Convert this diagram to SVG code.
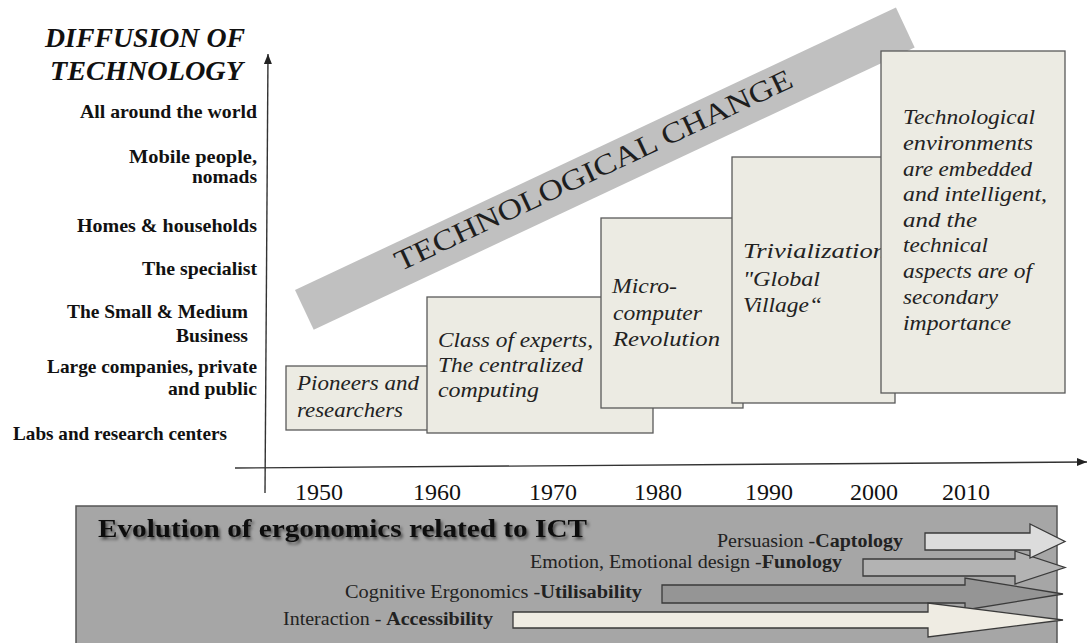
<svg xmlns="http://www.w3.org/2000/svg" width="1090" height="643" viewBox="0 0 1090 643">
<defs>
<style>
.lbl{font-family:"Liberation Serif","Times New Roman",serif;font-weight:bold;font-size:19px;fill:#111}
.ttl{font-family:"Liberation Serif","Times New Roman",serif;font-weight:bold;font-style:italic;font-size:27px;fill:#111}
.yr{font-family:"Liberation Serif","Times New Roman",serif;font-size:24px;fill:#111}
.box{fill:#ecebe3;stroke:#5a5a5a;stroke-width:1.3}
.bt{font-family:"Liberation Serif","Times New Roman",serif;font-style:italic;font-size:21px;fill:#222}
.axis{stroke:#333;stroke-width:1.4;fill:none}
.band{fill:#c0c0c0}
.bandt{font-family:"Liberation Serif","Times New Roman",serif;font-size:29px;fill:#1e1e1e}
.panel{fill:#a6a6a6;stroke:#555;stroke-width:1.5}
.pt{font-family:"Liberation Serif","Times New Roman",serif;font-weight:bold;font-size:26px;fill:#111}
.al{font-family:"Liberation Serif","Times New Roman",serif;font-size:18px;fill:#222}
.b{font-weight:bold}
.arr{stroke:#3a3a3a;stroke-width:1.3}
</style>
<marker id="ah" viewBox="0 0 10 10" refX="10" refY="5" markerWidth="10" markerHeight="10" orient="auto" markerUnits="userSpaceOnUse">
<path d="M0,1 L10,5 L0,9 Z" fill="#222"/>
</marker>
<filter id="sh" x="-5%" y="-30%" width="110%" height="160%">
<feDropShadow dx="2" dy="2.5" stdDeviation="1.6" flood-color="#000" flood-opacity="0.55"/>
</filter>
</defs>

<g id="axis-title">
<text class="ttl" x="45" y="47" textLength="200" lengthAdjust="spacingAndGlyphs">DIFFUSION OF</text>
<text class="ttl" x="50" y="80" textLength="193" lengthAdjust="spacingAndGlyphs">TECHNOLOGY</text>
</g>

<g id="y-labels">
<text class="lbl" x="80" y="118" textLength="177" lengthAdjust="spacingAndGlyphs">All around the world</text>
<text class="lbl" x="129" y="163" textLength="128" lengthAdjust="spacingAndGlyphs">Mobile people,</text>
<text class="lbl" x="192" y="183" textLength="65" lengthAdjust="spacingAndGlyphs">nomads</text>
<text class="lbl" x="77" y="232" textLength="180" lengthAdjust="spacingAndGlyphs">Homes &amp; households</text>
<text class="lbl" x="142" y="275" textLength="115" lengthAdjust="spacingAndGlyphs">The specialist</text>
<text class="lbl" x="67" y="318" textLength="181" lengthAdjust="spacingAndGlyphs">The Small &amp; Medium</text>
<text class="lbl" x="176" y="342" textLength="72" lengthAdjust="spacingAndGlyphs">Business</text>
<text class="lbl" x="47" y="373" textLength="210" lengthAdjust="spacingAndGlyphs">Large companies, private</text>
<text class="lbl" x="168" y="395" textLength="89" lengthAdjust="spacingAndGlyphs">and public</text>
<text class="lbl" x="13" y="440" textLength="214" lengthAdjust="spacingAndGlyphs">Labs and research centers</text>
</g>

<g id="connectors">
<line class="axis" x1="265" y1="493" x2="268" y2="54" marker-end="url(#ah)"/>
<line class="axis" x1="235" y1="468" x2="1087" y2="462" marker-end="url(#ah)"/>
</g>

<g id="years">
<text class="yr" x="295" y="500">1950</text>
<text class="yr" x="413" y="500">1960</text>
<text class="yr" x="529" y="500">1970</text>
<text class="yr" x="634" y="500">1980</text>
<text class="yr" x="745" y="500">1990</text>
<text class="yr" x="850" y="500">2000</text>
<text class="yr" x="942" y="500">2010</text>
</g>

<g id="technological-change">
<g transform="translate(295,290) rotate(-25.17)">
<rect class="band" x="0" y="0" width="664" height="44"/>
<text class="bandt" x="103" y="28" textLength="436" lengthAdjust="spacingAndGlyphs">TECHNOLOGICAL CHANGE</text>
</g>
</g>

<g id="box-pioneers">
<rect class="box" x="286" y="366" width="150" height="64"/>
<text class="bt" x="297" y="390" textLength="122" lengthAdjust="spacingAndGlyphs">Pioneers and</text>
<text class="bt" x="297" y="417" textLength="106" lengthAdjust="spacingAndGlyphs">researchers</text>
</g>

<g id="box-experts">
<rect class="box" x="427" y="297" width="226" height="136"/>
<text class="bt" x="438" y="347" textLength="155" lengthAdjust="spacingAndGlyphs">Class of experts,</text>
<text class="bt" x="438" y="372" textLength="145" lengthAdjust="spacingAndGlyphs">The centralized</text>
<text class="bt" x="438" y="397" textLength="101" lengthAdjust="spacingAndGlyphs">computing</text>
</g>

<g id="box-micro">
<rect class="box" x="601" y="218" width="142" height="190"/>
<text class="bt" x="612" y="293" textLength="65" lengthAdjust="spacingAndGlyphs">Micro-</text>
<text class="bt" x="613" y="320" textLength="89" lengthAdjust="spacingAndGlyphs">computer</text>
<text class="bt" x="613" y="346" textLength="107" lengthAdjust="spacingAndGlyphs">Revolution</text>
</g>

<g id="box-trivialization">
<rect class="box" x="732" y="157" width="163" height="246"/>
<text class="bt" x="743" y="258" textLength="143" lengthAdjust="spacingAndGlyphs">Trivialization</text>
<text class="bt" x="743" y="286" textLength="77" lengthAdjust="spacingAndGlyphs">"Global</text>
<text class="bt" x="743" y="312" textLength="79" lengthAdjust="spacingAndGlyphs">Village“</text>
</g>

<g id="box-environments">
<rect class="box" x="881" y="51" width="184" height="342"/>
<text class="bt" x="903" y="124" textLength="132" lengthAdjust="spacingAndGlyphs">Technological</text>
<text class="bt" x="903" y="150" textLength="130" lengthAdjust="spacingAndGlyphs">environments</text>
<text class="bt" x="903" y="176" textLength="129" lengthAdjust="spacingAndGlyphs">are embedded</text>
<text class="bt" x="903" y="201" textLength="144" lengthAdjust="spacingAndGlyphs">and intelligent,</text>
<text class="bt" x="903" y="227" textLength="74" lengthAdjust="spacingAndGlyphs">and the</text>
<text class="bt" x="903" y="252" textLength="85" lengthAdjust="spacingAndGlyphs">technical</text>
<text class="bt" x="903" y="278" textLength="129" lengthAdjust="spacingAndGlyphs">aspects are of</text>
<text class="bt" x="903" y="304" textLength="95" lengthAdjust="spacingAndGlyphs">secondary</text>
<text class="bt" x="903" y="330" textLength="108" lengthAdjust="spacingAndGlyphs">importance</text>
</g>

<g id="ergonomics-panel">
<rect class="panel" x="76" y="506" width="981" height="145"/>
<text class="pt" x="98" y="537" textLength="489" lengthAdjust="spacingAndGlyphs" filter="url(#sh)">Evolution of ergonomics related to ICT</text>
</g>

<g id="arrow-utilisability">
<polygon class="arr" fill="#959595" points="662,585 965,585 965,578 1063,594 965,610 965,603 662,603"/>
<text class="al" x="345" y="598" textLength="297" lengthAdjust="spacingAndGlyphs">Cognitive Ergonomics -<tspan class="b">Utilisability</tspan></text>
</g>

<g id="arrow-accessibility">
<polygon class="arr" fill="#efece3" points="513,612 928,612 928,603 1063,620 928,637 928,628 513,628"/>
<text class="al" x="283" y="625" textLength="210" lengthAdjust="spacingAndGlyphs">Interaction - <tspan class="b">Accessibility</tspan></text>
</g>

<g id="arrow-funology">
<polygon class="arr" fill="#b3b3b3" points="863,559 1015,559 1015,551 1065,567.5 1015,584 1015,576 863,576"/>
<text class="al" x="530" y="568" textLength="312" lengthAdjust="spacingAndGlyphs">Emotion, Emotional design -<tspan class="b">Funology</tspan></text>
</g>

<g id="arrow-captology">
<polygon class="arr" fill="#dcdcdc" points="925,533 1030,533 1030,524 1065,541.5 1030,558 1030,550 925,550"/>
<text class="al" x="717" y="547" textLength="186" lengthAdjust="spacingAndGlyphs">Persuasion -<tspan class="b">Captology</tspan></text>
</g>
</svg>
